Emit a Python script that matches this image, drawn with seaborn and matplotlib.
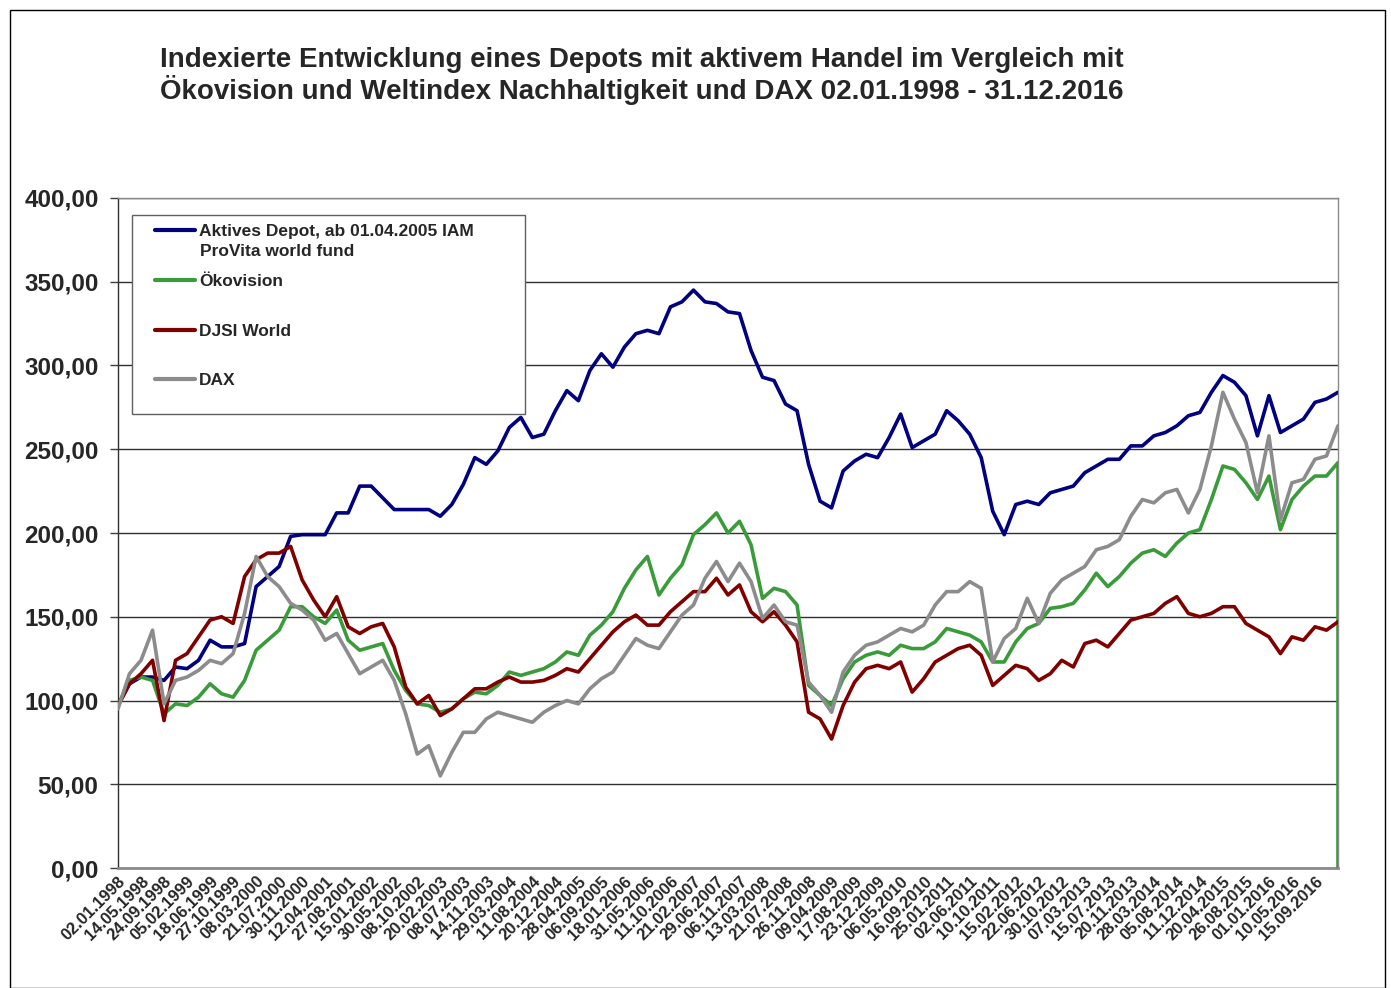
import matplotlib
matplotlib.use('Agg')
import matplotlib.pyplot as plt
from matplotlib.patches import Rectangle
import seaborn as sns
import pandas as pd
import numpy as np

# x axis: category labels (every second sample point carries a label)
tick_labels = ['02.01.1998', '14.05.1998', '24.09.1998', '05.02.1999', '18.06.1999', '27.10.1999',
               '08.03.2000', '21.07.2000', '30.11.2000', '12.04.2001', '27.08.2001', '15.01.2002',
               '30.05.2002', '08.10.2002', '20.02.2003', '08.07.2003', '14.11.2003', '29.03.2004',
               '11.08.2004', '20.12.2004', '28.04.2005', '06.09.2005', '18.01.2006', '31.05.2006',
               '11.10.2006', '21.02.2007', '29.06.2007', '06.11.2007', '13.03.2008', '21.07.2008',
               '26.11.2008', '09.04.2009', '17.08.2009', '23.12.2009', '06.05.2010', '16.09.2010',
               '25.01.2011', '02.06.2011', '10.10.2011', '15.02.2012', '22.06.2012', '30.10.2012',
               '07.03.2013', '15.07.2013', '20.11.2013', '28.03.2014', '05.08.2014', '11.12.2014',
               '20.04.2015', '26.08.2015', '01.01.2016', '10.05.2016', '15.09.2016']

# index values, one per half label step (02.01.1998 ... 31.12.2016)
aktiv = [97, 110, 114, 114, 112, 120, 119, 124, 136, 132, 132, 134, 168, 174, 180, 198, 199, 199, 199, 212,
         212, 228, 228, 221, 214, 214, 214, 214, 210, 217, 229, 245, 241, 249, 263, 269, 257, 259, 273, 285,
         279, 297, 307, 299, 311, 319, 321, 319, 335, 338, 345, 338, 337, 332, 331, 309, 293, 291, 277, 273,
         241, 219, 215, 237, 243, 247, 245, 257, 271, 251, 255, 259, 273, 267, 259, 245, 213, 199, 217, 219,
         217, 224, 226, 228, 236, 240, 244, 244, 252, 252, 258, 260, 264, 270, 272, 284, 294, 290, 282, 258,
         282, 260, 264, 268, 278, 280, 284]
oekovision = [97, 112, 114, 112, 92, 98, 97, 102, 110, 104, 102, 112, 130, 136, 142, 156, 156, 150, 146, 154,
              136, 130, 132, 134, 118, 106, 98, 97, 93, 95, 101, 105, 104, 109, 117, 115, 117, 119, 123, 129,
              127, 139, 145, 153, 167, 178, 186, 163, 173, 181, 199, 205, 212, 200, 207, 193, 161, 167, 165, 157,
              109, 103, 97, 113, 123, 127, 129, 127, 133, 131, 131, 135, 143, 141, 139, 135, 123, 123, 135, 143,
              146, 155, 156, 158, 166, 176, 168, 174, 182, 188, 190, 186, 194, 200, 202, 220, 240, 238, 230, 220,
              234, 202, 220, 228, 234, 234, 242, 0]
djsi = [97, 110, 116, 124, 88, 124, 128, 138, 148, 150, 146, 174, 184, 188, 188, 192, 172, 160, 150, 162,
        144, 140, 144, 146, 132, 108, 98, 103, 91, 95, 101, 107, 107, 111, 114, 111, 111, 112, 115, 119,
        117, 125, 133, 141, 147, 151, 145, 145, 153, 159, 165, 165, 173, 163, 169, 153, 147, 153, 145, 135,
        93, 89, 77, 97, 111, 119, 121, 119, 123, 105, 113, 123, 127, 131, 133, 127, 109, 115, 121, 119,
        112, 116, 124, 120, 134, 136, 132, 140, 148, 150, 152, 158, 162, 152, 150, 152, 156, 156, 146, 142,
        138, 128, 138, 136, 144, 142, 147]
dax = [95, 116, 124, 142, 98, 112, 114, 118, 124, 122, 128, 152, 186, 174, 168, 158, 154, 148, 136, 140,
       128, 116, 120, 124, 112, 92, 68, 73, 55, 69, 81, 81, 89, 93, 91, 89, 87, 93, 97, 100,
       98, 107, 113, 117, 127, 137, 133, 131, 141, 151, 157, 173, 183, 171, 182, 171, 149, 157, 147, 145,
       111, 103, 93, 117, 127, 133, 135, 139, 143, 141, 145, 157, 165, 165, 171, 167, 123, 137, 143, 161,
       146, 164, 172, 176, 180, 190, 192, 196, 210, 220, 218, 224, 226, 212, 226, 252, 284, 268, 254, 224,
       258, 208, 230, 232, 244, 246, 264]

names = ['Aktives Depot, ab 01.04.2005 IAM', 'Ökovision', 'DJSI World', 'DAX']
colors = ['#000080', '#3a9b3a', '#800000', '#8c8c8c']

# sample positions; the Ökovision series ends with a drop to 0 on the last day
pos = list(range(len(aktiv)))
pos_oeko = pos + [pos[-1]]

sns.set_style('white')
plt.rcParams['font.family'] = ['Liberation Sans', 'DejaVu Sans']

fig = plt.figure(figsize=(13.91, 9.88), dpi=100)
ax = fig.add_axes([118 / 1391, 1 - 868 / 988, 1220 / 1391, 670 / 988])

series = [(pos, aktiv), (pos_oeko, oekovision), (pos, djsi), (pos, dax)]
for (xs, ys), name, col in zip(series, names, colors):
    df = pd.DataFrame({'pos': xs, 'value': ys})
    sns.lineplot(data=df, x='pos', y='value', color=col, lw=2.6, label=name,
                 estimator=None, sort=False, ax=ax, zorder=3)

ax.set_xlim(0, 106)
ax.set_ylim(0, 400)
yt = np.arange(0, 401, 50)
ax.set_yticks(yt)
ax.set_yticklabels([f'{v:.2f}'.replace('.', ',') for v in yt], fontsize=17.5, fontweight='bold')
ax.set_xticks(range(0, 2 * len(tick_labels), 2))
ax.set_xticklabels(tick_labels, rotation=45, ha='right', rotation_mode='anchor',
                   fontsize=12, fontweight='bold')
ax.tick_params(axis='y', length=6, width=1, color='#404040', pad=8, direction='out', left=True)
ax.tick_params(axis='x', length=0, pad=4)
ax.set_xlabel('')
ax.set_ylabel('')
ax.yaxis.grid(True, color='#303030', lw=1)
ax.xaxis.grid(False)
ax.set_axisbelow(True)
for side in ['top', 'right']:
    ax.spines[side].set_color('#8a8a8a')
    ax.spines[side].set_linewidth(1)
ax.spines['left'].set_color('#303030')
ax.spines['left'].set_linewidth(1)
ax.spines['bottom'].set_color('#8a8a8a')
ax.spines['bottom'].set_linewidth(2)

# legend: white box with frame, entries on fixed 50 px rows
ax.add_patch(Rectangle(((132 - 118) / 1220, (868 - 414) / 670), (525 - 132) / 1220, (414 - 215) / 670,
                       transform=ax.transAxes, facecolor='white', edgecolor='#606060', lw=1,
                       zorder=4, clip_on=False))
leg = ax.legend(loc='upper left', bbox_to_anchor=(146 / 1391, 1 - 215 / 988), bbox_transform=fig.transFigure,
                frameon=False, borderpad=0, handlelength=2.3, handletextpad=0.25, labelspacing=2.0,
                prop={'weight': 'bold', 'size': 12.5})
leg.set_zorder(5)
for line in leg.get_lines():
    line.set_linewidth(3)
fig.text(200 / 1391, 1 - 251 / 988, 'ProVita world fund', fontsize=12.5, fontweight='bold',
         va='center', ha='left', zorder=10)

fig.text(160 / 1391, 1 - 47 / 988,
         'Indexierte Entwicklung eines Depots mit aktivem Handel im Vergleich mit\n'
         'Ökovision und Weltindex Nachhaltigkeit und DAX 02.01.1998 - 31.12.2016',
         fontsize=20, fontweight='bold', va='top', ha='left', linespacing=1.1)

fig.patches.append(Rectangle((10 / 1391, 0), 1375 / 1391, 978 / 988, transform=fig.transFigure,
                             fill=False, edgecolor='black', lw=1))

fig.savefig('out.png', dpi=100)
